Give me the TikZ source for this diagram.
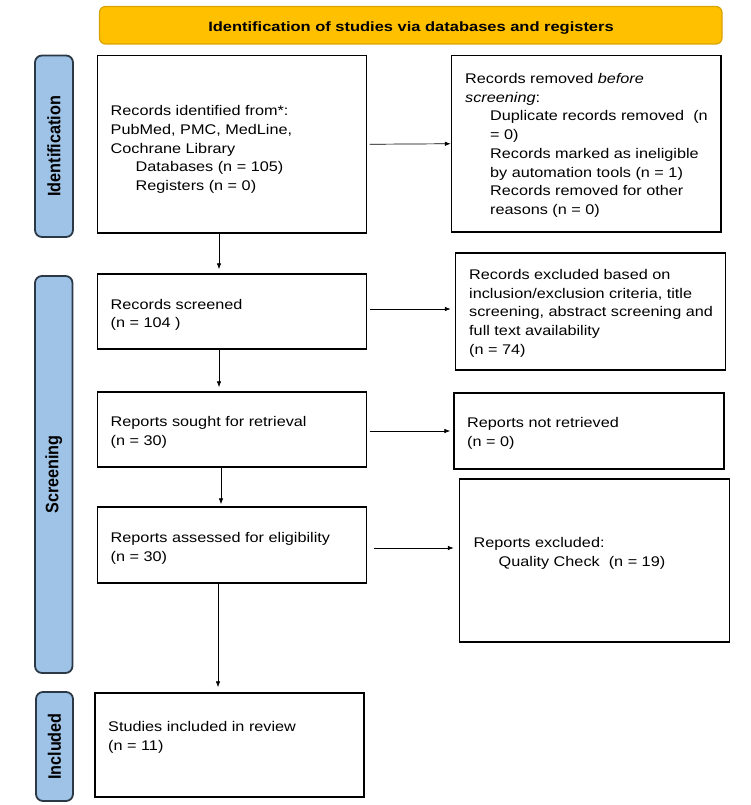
\documentclass[tikz,border=0pt]{standalone}
\usepackage{fontspec}
\setmainfont{Liberation Sans}[FakeStretch=1.16]
\newfontfamily\bannerfont{Liberation Sans}[FakeStretch=1.22,BoldFont={Liberation Sans Bold}]
\newfontfamily\sidefont{Liberation Sans}[FakeStretch=0.9,BoldFont={Liberation Sans Bold}]
\usetikzlibrary{arrows.meta}
\definecolor{bannerfill}{HTML}{FFC000}
\definecolor{bannerline}{HTML}{D9A300}
\definecolor{sidefill}{HTML}{9FC3E7}
\definecolor{sideline}{HTML}{2B3845}
\tikzset{
  box/.style={draw=black, line width=1.4pt, inner sep=0pt},
  banner/.style={draw=bannerline, fill=bannerfill, line width=1.2pt, rounded corners=6pt, inner sep=0pt},
  side/.style={draw=sideline, fill=sidefill, line width=1.8pt, rounded corners=7pt, inner sep=0pt},
  sidetext/.style={rotate=90, font=\sidefont\fontsize{18}{20}\selectfont\bfseries, inner sep=0pt},
  txt/.style={anchor=north west, yshift=13.09pt, align=left, inner sep=0pt, font=\fontsize{14}{18.7}\selectfont},
  arr/.style={-{Latex[length=6pt,width=4.5pt]}, line width=0.7pt}
}
\begin{document}
\begin{tikzpicture}[x=1pt,y=-1pt]
\useasboundingbox (0,0) rectangle (750,805);
% banner
\node[banner, minimum width=622.5pt, minimum height=37.5pt] (ban) at (410.75,25.25) {};
\node[anchor=base, inner sep=0pt, font=\bannerfont\fontsize{13.5}{16}\selectfont\bfseries] (bant) at (411,31.5) {Identification of studies via databases and registers};
% side labels
\node[side, minimum width=38pt, minimum height=181.5pt] (sid) at (54,146.25) {};
\node[sidetext] (sidt) at (sid.center) {Identification};
\node[side, minimum width=37.5pt, minimum height=397pt] (sscr) at (53.75,474.5) {};
\node[sidetext] (sscrt) at (sscr.center) {Screening};
\node[side, minimum width=37pt, minimum height=109pt] (sinc) at (54.5,746.5) {};
\node[sidetext] (sinct) at (sinc.center) {Included};
% boxes
\node[box, minimum width=269pt, minimum height=177.5pt] (b1) at (232,144.25) {};
\node[box, minimum width=269.5pt, minimum height=176.5pt] (b2) at (586.25,143.75) {};
\node[box, minimum width=269pt, minimum height=75pt] (b3) at (232,311.5) {};
\node[box, minimum width=270pt, minimum height=117pt] (b4) at (590.5,311.5) {};
\node[box, minimum width=269pt, minimum height=75pt] (b5) at (232,429.5) {};
\node[box, minimum width=270pt, minimum height=76pt] (b6) at (589,431) {};
\node[box, minimum width=269pt, minimum height=76pt] (b7) at (232,545) {};
\node[box, minimum width=270pt, minimum height=163pt] (b8) at (594.5,560.5) {};
\node[box, minimum width=269pt, minimum height=104pt] (b9) at (229.5,745) {};
% texts
\node[txt] (t1) at (110.5,115.7) {\strut Records identified from*:\\PubMed, PMC, MedLine,\\Cochrane Library\\\hspace*{25pt}Databases (n = 105)\\\hspace*{25pt}Registers (n = 0)};
\node[txt] (t2) at (465,83.3) {\strut Records removed \textit{before}\\\textit{screening}:\\\hspace*{25pt}Duplicate records removed\ \ (n\\\hspace*{25pt}= 0)\\\hspace*{25pt}Records marked as ineligible\\\hspace*{25pt}by automation tools (n = 1)\\\hspace*{25pt}Records removed for other\\\hspace*{25pt}reasons (n = 0)};
\node[txt] (t3) at (110.5,309) {\strut Records screened\\(n = 104 )};
\node[txt] (t4) at (469,279.3) {\strut Records excluded based on\\inclusion/exclusion criteria, title\\screening, abstract screening and\\full text availability\\(n = 74)};
\node[txt] (t5) at (110.5,426.7) {\strut Reports sought for retrieval\\(n = 30)};
\node[txt] (t6) at (467,427.7) {\strut Reports not retrieved\\(n = 0)};
\node[txt] (t7) at (110.5,542.3) {\strut Reports assessed for eligibility\\(n = 30)};
\node[txt] (t8) at (473.5,547.3) {\strut Reports excluded:\\\hspace*{25pt}Quality Check\ \ (n = 19)};
\node[txt] (t9) at (108,731.7) {\strut Studies included in review\\(n = 11)};
% horizontal arrows
\draw[arr] ([xshift=2.5pt]b1.east) -- (b2.west);
\draw[arr] ([xshift=2.5pt,yshift=2.5pt]b3.east) -- ([xshift=-4pt]b4.west |- 0,309);
\draw[arr] ([xshift=2.5pt,yshift=-1.5pt]b5.east) -- ([xshift=-3pt]b6.west |- 0,431);
\draw[arr] ([xshift=7pt,yshift=-3pt]b7.east) -- ([xshift=-5pt]b8.west |- 0,548);
% vertical arrows
\draw[arr] ([xshift=-13pt]b1.south) -- ([xshift=-13pt,yshift=4pt]b3.north);
\draw[arr] ([xshift=-13pt]b3.south) -- ([xshift=-13pt,yshift=4pt]b5.north);
\draw[arr] ([xshift=-11pt]b5.south) -- ([xshift=-11pt,yshift=2pt]b7.north);
\draw[arr] ([xshift=-14pt]b7.south) -- ([xshift=-14pt,yshift=5pt]b9.north -| b7.south);
\end{tikzpicture}
\end{document}
